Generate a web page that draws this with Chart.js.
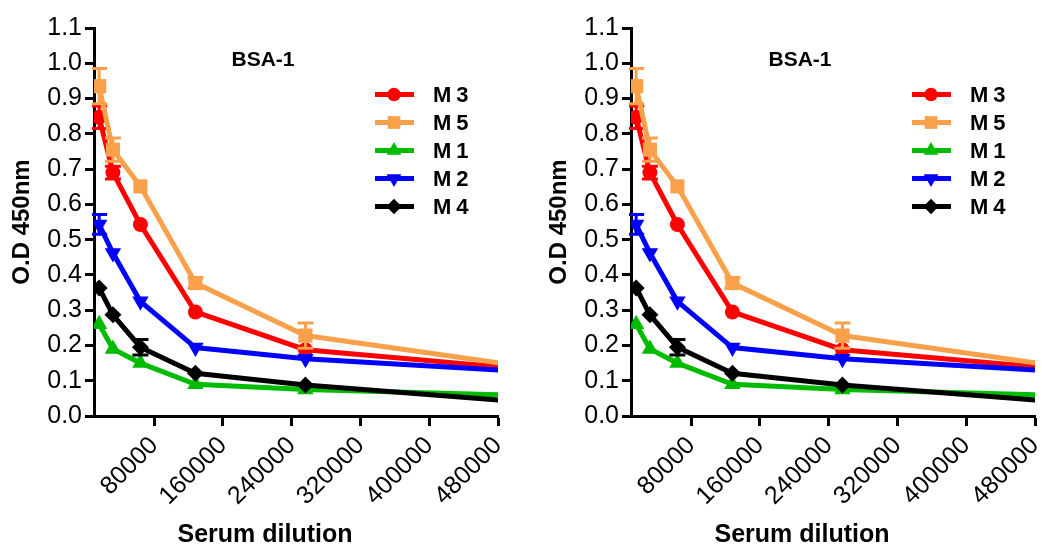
<!DOCTYPE html>
<html><head><meta charset="utf-8">
<script src="https://cdn.jsdelivr.net/npm/chart.js@4.4.0/dist/chart.umd.min.js"></script>
<style>
html,body{margin:0;padding:0;background:#fff;width:1042px;height:546px;overflow:hidden}
.panel{position:absolute;top:0;height:546px;width:537px}
</style></head><body>
<div class="panel" style="left:0"><canvas id="c1"></canvas></div>
<div class="panel" style="left:537px"><canvas id="c2"></canvas></div>
<script>
// ---- data ----
const dilutions = [16000, 32000, 64000, 128000, 256000, 512000];
const seriesNames = ['M3', 'M5', 'M1', 'M2', 'M4'];
const m3 = [0.847, 0.690, 0.543, 0.295, 0.188, 0.133];
const m5 = [0.935, 0.755, 0.651, 0.377, 0.228, 0.140];
const m1 = [0.260, 0.190, 0.150, 0.090, 0.075, 0.058];
const m2 = [0.543, 0.462, 0.325, 0.194, 0.162, 0.126];
const m4 = [0.363, 0.287, 0.195, 0.121, 0.088, 0.039];
const m3Err = [0.032, 0.018, 0, 0, 0, 0];
const m5Err = [0.050, 0.033, 0, 0.015, 0.036, 0];
const m1Err = [0, 0, 0, 0, 0, 0];
const m2Err = [0.028, 0, 0, 0, 0, 0];
const m4Err = [0, 0, 0.022, 0, 0, 0];
const xTicks = [80000, 160000, 240000, 320000, 400000, 480000];
const yTicks = [0, 0.1, 0.2, 0.3, 0.4, 0.5, 0.6, 0.7, 0.8, 0.9, 1.0, 1.1];
const chartTitle = 'BSA-1';
const xTitle = 'Serum dilution';
const yTitle = 'O.D 450nm';

const values = [m3, m5, m1, m2, m4];
const errors = [m3Err, m5Err, m1Err, m2Err, m4Err];
const colors = ['#FF0000', '#F9A04A', '#00BB00', '#0000FF', '#000000'];
const styles = ['circle', 'rect', 'triangle', 'triangle', 'rectRot'];
const rotations = [0, 0, 0, 180, 0];
const radii = [7.5, 10, 9.5, 9.5, 8.5];

const FONT = "'Liberation Sans', Arial, sans-serif";

const overlay = {
  id: 'overlay',
  afterDatasetDraw(chart, args) {
    const i = args.index;
    const ctx = chart.ctx, xs = chart.scales.x, ys = chart.scales.y;
    const ca = chart.chartArea;
    ctx.save();
    ctx.beginPath(); ctx.rect(ca.left - 2, ca.top - 20, ca.right - ca.left + 4, ca.bottom - ca.top + 22); ctx.clip();
    ctx.strokeStyle = colors[i]; ctx.lineWidth = 3; ctx.lineCap = 'butt';
    dilutions.forEach((d, k) => {
      const e = errors[i][k]; if (!e) return;
      const px = xs.getPixelForValue(d);
      const v = values[i][k];
      const t = ys.getPixelForValue(v + e), b = ys.getPixelForValue(v - e);
      ctx.beginPath();
      ctx.moveTo(px, t); ctx.lineTo(px, b);
      ctx.moveTo(px - 8, t); ctx.lineTo(px + 8, t);
      ctx.moveTo(px - 8, b); ctx.lineTo(px + 8, b);
      ctx.stroke();
    });
    ctx.restore();
  },
  afterDraw(chart) {
    const ctx = chart.ctx, ca = chart.chartArea;
    ctx.save();
    ctx.fillStyle = '#000';
    ctx.font = "bold 21px " + FONT;
    ctx.textAlign = 'center'; ctx.textBaseline = 'middle';
    ctx.fillText(chartTitle, ca.left + 169, 60);
    // x-axis title (centred under the panel as in the original)
    ctx.font = "bold 25px " + FONT;
    ctx.fillText(xTitle, ca.left + 171, 535);
    // legend
    const lx0 = ca.left + 281, lx1 = ca.left + 320, mx = ca.left + 300;
    seriesNames.forEach((name, i) => {
      const y = 94.5 + i * 28;
      ctx.strokeStyle = colors[i]; ctx.lineWidth = 5;
      ctx.beginPath(); ctx.moveTo(lx0, y); ctx.lineTo(lx1, y); ctx.stroke();
      ctx.fillStyle = colors[i];
      Chart.helpers.drawPoint(ctx, {
        pointStyle: styles[i], radius: radii[i] * 0.9, rotation: rotations[i], borderWidth: 0
      }, mx, y);
      ctx.fillStyle = '#000';
      ctx.font = "bold 22px " + FONT;
      ctx.textAlign = 'left';
      ctx.letterSpacing = '5px';
      ctx.fillText(name, ca.left + 339, y + 1);
      ctx.letterSpacing = '0px';
    });
    ctx.restore();
  }
};

function makeChart(id) {
  const datasets = seriesNames.map((name, i) => ({
    label: name,
    data: dilutions.map((d, k) => ({ x: d, y: values[i][k] })),
    borderColor: colors[i],
    backgroundColor: colors[i],
    borderWidth: 5,
    pointStyle: styles[i],
    pointRotation: rotations[i],
    pointRadius: radii[i],
    pointBorderWidth: 0,
    pointBackgroundColor: colors[i],
    tension: 0,
    order: 4 - i
  }));
  return new Chart(document.getElementById(id), {
    type: 'line',
    data: { datasets },
    plugins: [overlay],
    options: {
      responsive: true,
      maintainAspectRatio: false,
      animation: false,
      events: [],
      layout: { padding: { left: 0, right: 39, top: 28, bottom: 0 } },
      plugins: { legend: { display: false }, tooltip: { enabled: false }, title: { display: false } },
      scales: {
        x: {
          type: 'linear', min: 10000, max: 480000,
          afterBuildTicks: s => { s.ticks = xTicks.map(v => ({ value: v })); },
          afterFit: s => { s.height = 130; },
          grid: { drawOnChartArea: false, drawTicks: true, tickLength: 10, tickWidth: 3, tickColor: '#000' },
          border: { display: true, width: 3, color: '#000' },
          ticks: { color: '#000', font: { family: FONT, size: 25 }, minRotation: 45, maxRotation: 45, padding: 5, autoSkip: false, callback: v => String(v) },
          title: { display: false }
        },
        y: {
          type: 'linear', min: 0, max: 1.1,
          afterBuildTicks: s => { s.ticks = yTicks.map(v => ({ value: v })); },
          afterFit: s => { s.width = 94; },
          grid: { drawOnChartArea: false, drawTicks: true, tickLength: 9, tickWidth: 3, tickColor: '#000' },
          border: { display: true, width: 3, color: '#000' },
          ticks: { color: '#000', font: { family: FONT, size: 25 }, padding: 3, autoSkip: false, callback: v => Number(v).toFixed(1) },
          title: { display: true, text: yTitle, color: '#000', font: { family: FONT, size: 24, weight: 'bold', lineHeight: 1 }, padding: { top: 10, bottom: 0 } }
        }
      }
    }
  });
}
makeChart('c1');
makeChart('c2');
</script>
</body></html>
